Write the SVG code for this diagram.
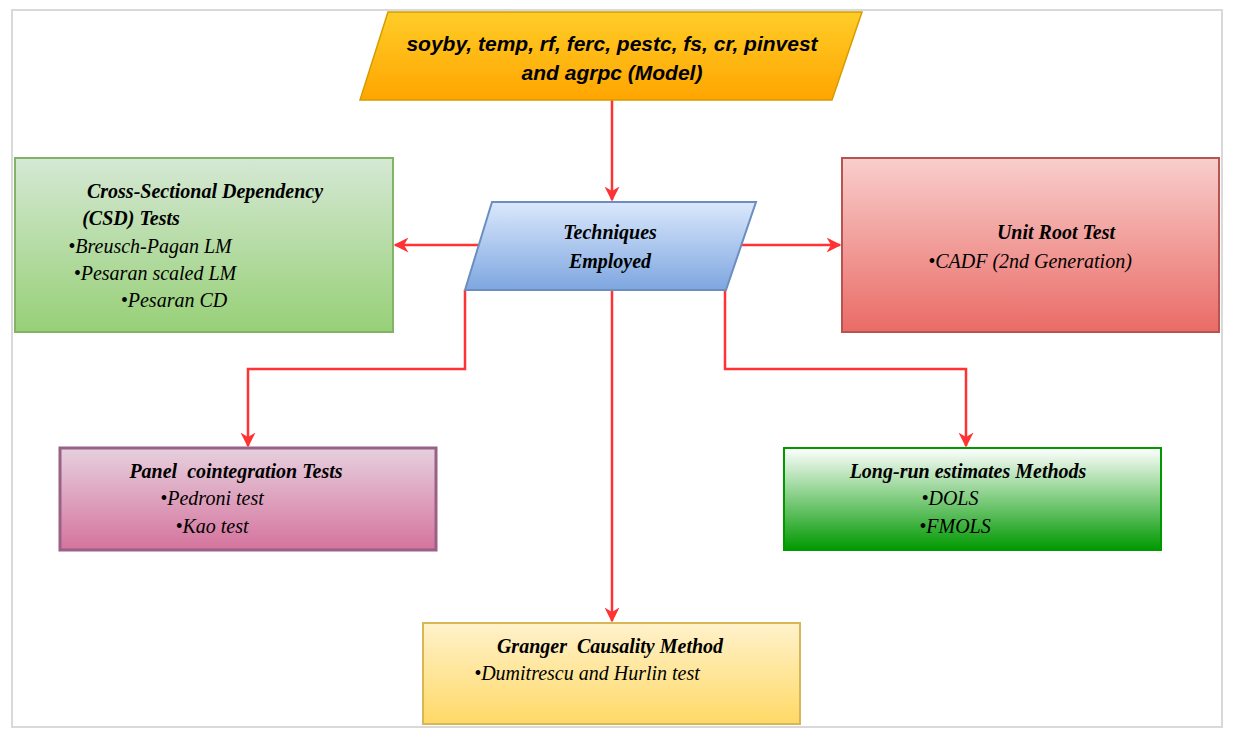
<svg xmlns="http://www.w3.org/2000/svg" width="1241" height="741" viewBox="0 0 1241 741">
<defs>
<linearGradient id="gOr" x1="0" y1="0" x2="0" y2="1"><stop offset="0" stop-color="#ffcd28"/><stop offset="1" stop-color="#ffa500"/></linearGradient>
<linearGradient id="gBl" x1="0" y1="0" x2="0" y2="1"><stop offset="0" stop-color="#dae8fc"/><stop offset="1" stop-color="#7ea6e0"/></linearGradient>
<linearGradient id="gGr" x1="0" y1="0" x2="0" y2="1"><stop offset="0" stop-color="#d5e8d4"/><stop offset="1" stop-color="#97d077"/></linearGradient>
<linearGradient id="gRd" x1="0" y1="0" x2="0" y2="1"><stop offset="0" stop-color="#f8cecc"/><stop offset="1" stop-color="#ea6b66"/></linearGradient>
<linearGradient id="gPk" x1="0" y1="0" x2="0" y2="1"><stop offset="0" stop-color="#e6d0de"/><stop offset="1" stop-color="#d5739d"/></linearGradient>
<linearGradient id="gDg" x1="0" y1="0" x2="0" y2="1"><stop offset="0" stop-color="#ffffff"/><stop offset="1" stop-color="#009900"/></linearGradient>
<linearGradient id="gYe" x1="0" y1="0" x2="0" y2="1"><stop offset="0" stop-color="#fff2cc"/><stop offset="1" stop-color="#ffd966"/></linearGradient>
<marker id="ah" viewBox="0 0 10 10" refX="9" refY="5" markerWidth="6" markerHeight="6" orient="auto"><path d="M0,0 L10,5 L0,10 L3,5 Z" fill="#ff3333"/></marker>
</defs>
<style>
.t{font-family:"Liberation Serif",serif;font-style:italic;font-size:20px;fill:#000;text-anchor:middle}
.b{font-weight:bold}
.s{font-family:"Liberation Sans",sans-serif;font-style:italic;font-weight:bold;font-size:21px;text-anchor:middle}
.c{fill:none;stroke:#ff3333;stroke-width:2.5;marker-end:url(#ah)}
</style>
<rect x="12" y="10" width="1210" height="717" fill="#fff" stroke="#d9d9d9" stroke-width="2"/>
<g id="connectors">
<path class="c" d="M612,100 V200"/>
<path class="c" d="M478,245 H395"/>
<path class="c" d="M742,245 H840"/>
<path class="c" d="M465,290 V369 H248 V446"/>
<path class="c" d="M725,290 V369 H966 V446"/>
<path class="c" d="M612,290 V621"/>
</g>
<g id="model"><polygon points="388,12 862,12 832,100 360,100" fill="url(#gOr)" stroke="#d79b00" stroke-width="1.5"/>
<text class="s" x="612" y="51">soyby, temp, rf, ferc, pestc, fs, cr, pinvest</text>
<text class="s" x="612" y="80">and agrpc (Model)</text></g>
<g id="techniques"><polygon points="492,202 756,202 726,290 465,290" fill="url(#gBl)" stroke="#6c8ebf" stroke-width="2"/>
<text class="t b" x="610" y="239">Techniques</text><text class="t b" x="610" y="268">Employed</text></g>
<g id="csd"><rect x="15" y="158" width="378" height="174" fill="url(#gGr)" stroke="#82b366" stroke-width="2"/>
<text class="t b" x="205" y="198">Cross-Sectional Dependency</text>
<text class="t b" x="131" y="225">(CSD) Tests</text>
<text class="t" x="150" y="253">•Breusch-Pagan LM</text>
<text class="t" x="155" y="280">•Pesaran scaled LM</text>
<text class="t" x="174" y="307">•Pesaran CD</text></g>
<g id="unitroot"><rect x="842" y="158" width="377" height="174" fill="url(#gRd)" stroke="#b85450" stroke-width="2"/>
<text class="t b" x="1056" y="239">Unit Root Test</text>
<text class="t" x="1030" y="268">•CADF (2nd Generation)</text></g>
<g id="panel"><rect x="60" y="448" width="376" height="102" fill="url(#gPk)" stroke="#996185" stroke-width="3"/>
<text class="t b" x="236" y="478" xml:space="preserve">Panel  cointegration Tests</text>
<text class="t" x="212" y="505">•Pedroni test</text>
<text class="t" x="212" y="533">•Kao test</text></g>
<g id="longrun"><rect x="784" y="448" width="377" height="102" fill="url(#gDg)" stroke="#009900" stroke-width="2"/>
<text class="t b" x="968" y="478">Long-run estimates Methods</text>
<text class="t" x="950" y="505">•DOLS</text>
<text class="t" x="955" y="533">•FMOLS</text></g>
<g id="granger"><rect x="423" y="623" width="377" height="101" fill="url(#gYe)" stroke="#d6b656" stroke-width="2"/>
<text class="t b" x="610" y="653" xml:space="preserve">Granger  Causality Method</text>
<text class="t" x="587" y="680">•Dumitrescu and Hurlin test</text></g>
</svg>
